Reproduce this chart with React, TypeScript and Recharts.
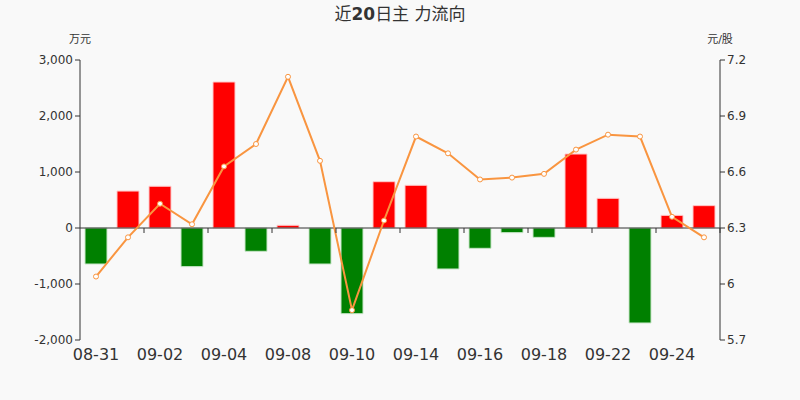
import { Bar, Cell, ComposedChart, Line, YAxis, XAxis, ReferenceLine } from "recharts";

const dates = [
  "08-31", "09-01", "09-02", "09-03", "09-04", "09-07", "09-08", "09-09", "09-10", "09-11",
  "09-14", "09-15", "09-16", "09-17", "09-18", "09-21", "09-22", "09-23", "09-24", "09-25",
];
const mainFlow = [
  -643, 660, 745, -690, 2607, -416, 48, -643, -1530, 827,
  762, -732, -363, -83, -167, 1321, 530, -1696, 226, 399,
];
const price = [
  6.04, 6.25, 6.43, 6.32, 6.63, 6.75, 7.11, 6.66, 5.86, 6.34,
  6.79, 6.70, 6.56, 6.57, 6.59, 6.72, 6.80, 6.79, 6.36, 6.25,
];
const flowTicks = [-2000, -1000, 0, 1000, 2000, 3000];
const priceTicks = [5.7, 6, 6.3, 6.6, 6.9, 7.2];

const data = dates.map((d, i) => ({ date: d, flow: mainFlow[i], price: price[i] }));

const W = 800;
const H = 400;
const TOP = 60;
const PLOT_H = 280;
const zeroY = TOP + (PLOT_H * flowTicks[flowTicks.length - 1]) / (flowTicks[flowTicks.length - 1] - flowTicks[0]);
const band = (W - 160) / dates.length;

const font = "'DejaVu Sans', 'Noto Sans CJK SC', sans-serif";

function DateTick({ x, y, payload }: any) {
  return (
    <g>
      <line x1={x + band * 1.5} x2={x + band * 1.5} y1={zeroY} y2={zeroY + 5} stroke="#333" />
      <text x={x} y={y + 12} textAnchor="middle" fontSize={16} fill="#333" fontFamily={font}>
        {payload.value}
      </text>
    </g>
  );
}

export default function App() {
  return (
    <div style={{ position: "fixed", left: 0, top: 0, width: W, height: H, background: "#f9f9f9" }}>
      <ComposedChart
        width={W}
        height={H}
        data={data}
        margin={{ top: TOP, right: 40, bottom: 30, left: 40 }}
        barCategoryGap={5}
      >
        <text x={400} y={20} textAnchor="middle" fontSize={17} fill="#333" fontFamily={font}>
          近<tspan fontWeight="bold">20</tspan>日主 力流向
        </text>
        <text x={80} y={43} textAnchor="middle" fontSize={11} fill="#333" fontFamily={font}>
          万元
        </text>
        <text x={720} y={43} textAnchor="middle" fontSize={11} fill="#333" fontFamily={font}>
          元/股
        </text>
        <XAxis
          dataKey="date"
          interval={1}
          axisLine={false}
          tickLine={false}
          height={30}
          tick={<DateTick />}
        />
        <YAxis
          yAxisId="flow"
          width={40}
          domain={[-2000, 3000]}
          ticks={flowTicks}
          tickFormatter={(v: number) => v.toLocaleString("en-US")}
          stroke="#333"
          tick={{ fontSize: 12, fill: "#333", fontFamily: font }}
          tickSize={5}
        />
        <YAxis
          yAxisId="price"
          orientation="right"
          width={40}
          domain={[5.7, 7.2]}
          ticks={priceTicks}
          stroke="#333"
          tick={{ fontSize: 12, fill: "#333", fontFamily: font }}
          tickSize={5}
        />
        <Bar yAxisId="flow" dataKey="flow" barSize={22} isAnimationActive={false}>
          {data.map((d) => (
            <Cell
              key={d.date}
              fill={d.flow >= 0 ? "#ff0000" : "#008000"}
              stroke={d.flow >= 0 ? "#ffc8c8" : "#c8e6c8"}
              strokeWidth={1}
            />
          ))}
        </Bar>
        <ReferenceLine yAxisId="flow" y={0} stroke="#333" />
        <Line
          yAxisId="price"
          dataKey="price"
          stroke="#f99540"
          strokeWidth={2}
          dot={{ r: 2.5, fill: "#fff", stroke: "#f99540", strokeWidth: 1 }}
          isAnimationActive={false}
        />
      </ComposedChart>
    </div>
  );
}
